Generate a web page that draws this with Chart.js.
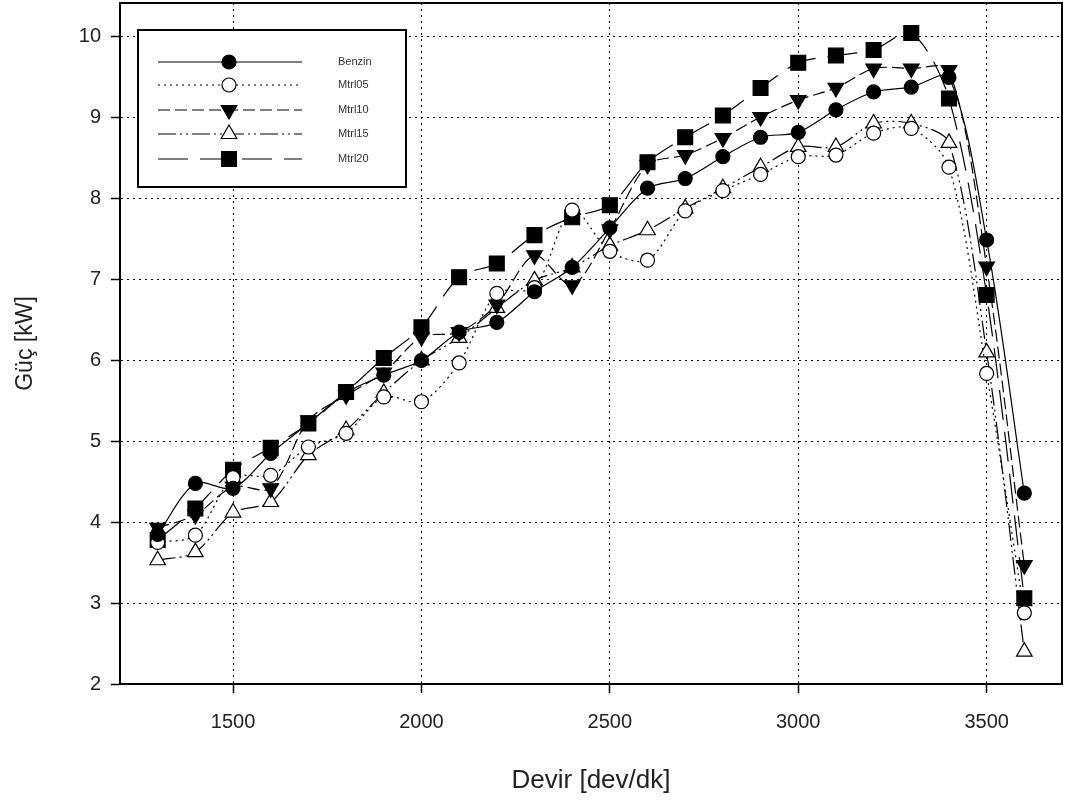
<!DOCTYPE html>
<html>
<head>
<meta charset="utf-8">
<style>
  html, body { margin: 0; padding: 0; background: #fff; }
  #wrap { width: 1068px; height: 800px; }
</style>
<script src="https://cdn.jsdelivr.net/npm/chart.js@4.4.1/dist/chart.umd.min.js"></script>
</head>
<body>
<div id="wrap"><canvas id="c" width="1068" height="800"></canvas></div>
<script>
// ── data ────────────────────────────────────────────────────────────────
const DEVIR = [1300, 1400, 1500, 1600, 1700, 1800, 1900, 2000, 2100, 2200, 2300, 2400,
               2500, 2600, 2700, 2800, 2900, 3000, 3100, 3200, 3300, 3400, 3500, 3600];

const BENZIN = [3.85, 4.48, 4.42, 4.85, 5.22, 5.60, 5.82, 6.00, 6.35, 6.47, 6.85, 7.15,
                7.64, 8.13, 8.25, 8.52, 8.76, 8.82, 9.10, 9.32, 9.38, 9.50, 7.49, 4.36];
const MTRL05 = [3.75, 3.84, 4.55, 4.58, 4.93, 5.10, 5.55, 5.49, 5.97, 6.83, 6.90, 7.86,
                7.35, 7.24, 7.85, 8.10, 8.30, 8.52, 8.54, 8.81, 8.87, 8.39, 5.84, 2.88];
const MTRL10 = [3.93, 4.09, 4.44, 4.42, 5.26, 5.57, 5.85, 6.29, 6.35, 6.69, 7.30, 6.93,
                7.62, 8.42, 8.54, 8.75, 9.01, 9.22, 9.37, 9.61, 9.61, 9.59, 7.16, 3.47];
const MTRL15 = [3.53, 3.63, 4.12, 4.25, 4.83, 5.14, 5.60, 6.00, 6.28, 6.65, 6.99, 7.15,
                7.42, 7.61, 7.88, 8.13, 8.39, 8.64, 8.64, 8.93, 8.93, 8.69, 6.10, 2.40];
const MTRL20 = [3.78, 4.17, 4.65, 4.92, 5.22, 5.61, 6.03, 6.41, 7.03, 7.20, 7.55, 7.77,
                7.92, 8.45, 8.76, 9.03, 9.37, 9.68, 9.77, 9.84, 10.05, 9.24, 6.81, 3.06];

const X_TICKS = [1500, 2000, 2500, 3000, 3500];
const Y_TICKS = [2, 3, 4, 5, 6, 7, 8, 9, 10];

const SERIES = [
  { label: 'Benzin', values: BENZIN, style: 'circle',   rot: 0,   fill: '#000', dash: [] },
  { label: 'Mtrl05', values: MTRL05, style: 'circle',   rot: 0,   fill: '#fff', dash: [2, 4] },
  { label: 'Mtrl10', values: MTRL10, style: 'triangle', rot: 180, fill: '#000', dash: [12, 5] },
  { label: 'Mtrl15', values: MTRL15, style: 'triangle', rot: 0,   fill: '#fff', dash: [18, 4, 2, 4, 2, 4] },
  { label: 'Mtrl20', values: MTRL20, style: 'rect',     rot: 0,   fill: '#000', dash: [30, 12] },
];

const RADIUS = { circle: 7, triangle: 9, rect: 10.5 };
const FONT = '"Liberation Sans", Arial, sans-serif';

// ── frame + legend box ──────────────────────────────────────────────────
const framePlugin = {
  id: 'frame',
  afterDraw(chart) {
    const { ctx, chartArea: a } = chart;
    ctx.save();
    ctx.strokeStyle = '#000';
    ctx.lineWidth = 2;
    ctx.setLineDash([]);
    ctx.strokeRect(a.left, a.top, a.right - a.left, a.bottom - a.top);

    // legend
    const bx = 138, by = 30, bw = 268, bh = 157;
    ctx.fillStyle = '#fff';
    ctx.fillRect(bx, by, bw, bh);
    ctx.strokeRect(bx, by, bw, bh);
    const rows = [62, 85, 110, 134, 159];
    chart.data.datasets.forEach((ds, i) => {
      const y = rows[i];
      ctx.lineWidth = 1.2;
      ctx.strokeStyle = '#000';
      ctx.setLineDash(ds.borderDash);
      ctx.beginPath();
      ctx.moveTo(158, y);
      ctx.lineTo(302, y);
      ctx.stroke();
      ctx.setLineDash([]);
      ctx.fillStyle = ds.pointBackgroundColor;
      Chart.helpers.drawPoint(ctx, {
        pointStyle: ds.pointStyle, radius: ds.pointRadius,
        rotation: ds.pointRotation, borderWidth: 1.2
      }, 229, y);
      ctx.fillStyle = '#333';
      ctx.font = '11px ' + FONT;
      ctx.textBaseline = 'middle';
      ctx.fillText(ds.label, 338, y);
    });
    ctx.restore();
  }
};

const grid = {
  color: '#000',
  lineWidth: 1,
  tickBorderDash: [],
  tickColor: '#000',
  tickLength: 9,
  tickWidth: 1.5,
};
const border = { display: true, color: '#000', width: 2, dash: [2, 4] };

new Chart(document.getElementById('c'), {
  type: 'line',
  data: {
    datasets: SERIES.map((s) => ({
      label: s.label,
      data: DEVIR.map((x, i) => ({ x, y: s.values[i] })),
      borderColor: '#000',
      borderWidth: 1.2,
      borderDash: s.dash,
      tension: 0.3,
      pointStyle: s.style,
      pointRotation: s.rot,
      pointRadius: RADIUS[s.style],
      pointBackgroundColor: s.fill,
      pointBorderColor: '#000',
      pointBorderWidth: 1.2,
      fill: false,
    })),
  },
  options: {
    responsive: false,
    animation: false,
    layout: { autoPadding: false, padding: { left: 0, right: 6, top: 3, bottom: 0 } },
    plugins: { legend: { display: false }, tooltip: { enabled: false } },
    scales: {
      x: {
        type: 'linear',
        min: 1200, max: 3700,
        afterBuildTicks: (sc) => { sc.ticks = X_TICKS.map((v) => ({ value: v })); },
        afterFit: (sc) => {
          sc.height = 116;
          sc.paddingLeft = 0; sc.paddingRight = 0;
        },
        grid, border,
        ticks: {
          color: '#222', padding: 17, font: { size: 20, family: FONT },
          callback: (v) => String(v)
        },
        title: {
          display: true, text: 'Devir [dev/dk]', color: '#222', padding: { top: 8 },
          font: { size: 26, family: FONT }
        },
      },
      y: {
        min: 2, max: 10.42,
        afterBuildTicks: (sc) => { sc.ticks = Y_TICKS.map((v) => ({ value: v })); },
        afterFit: (sc) => {
          sc.width = 120;
          sc.paddingTop = 0; sc.paddingBottom = 0;
        },
        grid, border,
        ticks: {
          color: '#222', padding: 10, font: { size: 20, family: FONT },
          callback: (v) => String(v)
        },
        title: {
          display: true, text: 'Güç [kW]', color: '#222', padding: { top: 12, bottom: 10 },
          font: { size: 23, family: FONT }
        },
      },
    },
  },
  plugins: [framePlugin],
});
</script>
</body>
</html>
